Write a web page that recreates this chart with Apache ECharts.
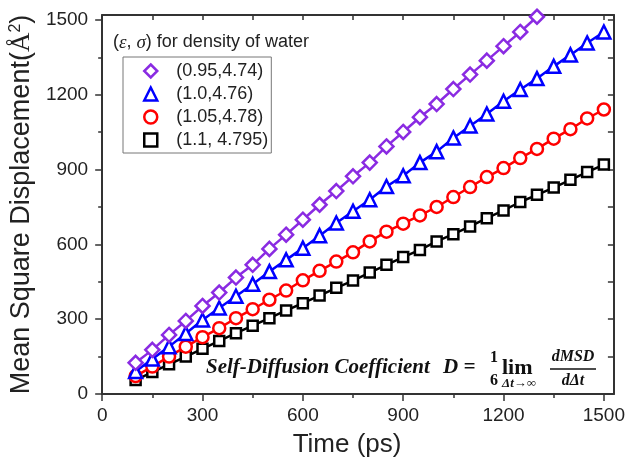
<!DOCTYPE html>
<html>
<head>
<meta charset="utf-8">
<script src="https://cdn.jsdelivr.net/npm/echarts@6/dist/echarts.min.js"></script>
<style>html,body{margin:0;padding:0;background:#fff}#c{width:628px;height:468px}</style>
</head>
<body>
<div id="c"></div>
<script>
// ---- data ----
const times = [100,150,200,250,300,350,400,450,500,550,600,650,700,750,800,850,900,950,1000,1050,1100,1150,1200,1250,1300,1350,1400,1450,1500];
const names = ['(0.95,4.74)','(1.0,4.76)','(1.05,4.78)','(1.1, 4.795)'];
const msd095 = [125,177,237,293,353,407,467,518,582,639,699,759,814,873,928,993,1051,1110,1163,1223,1281,1337,1395,1452,1513,1570];
const msd100 = [90,140,190,243,297,345,392,440,491,538,585,635,686,733,779,832,875,928,972,1027,1075,1123,1174,1221,1265,1314,1360,1408,1452];
const msd105 = [72,110,150,190,228,264,304,340,378,415,456,494,531,568,612,651,683,716,750,790,830,870,906,946,983,1024,1062,1105,1141];
const msd110 = [56,88,119,150,181,213,244,274,304,335,364,395,426,455,487,518,549,578,612,641,672,705,736,770,799,828,859,890,920];
const majorTicks = [0,300,600,900,1200,1500];
const minorTicks = [150,450,750,1050,1350];
const allTicks = [0,150,300,450,600,750,900,1050,1200,1350,1500];

const colors = ['#8a2be2','#0000ff','#ff0000','#000000'];
const symbols = ['diamond','triangle','circle','rect'];
const sizes = [14,13,12,10];
const sets = [msd095, msd100, msd105, msd110];

const axisColor = '#333';
const labelFont = {fontFamily:'Liberation Sans', fontSize:19, color:'#222', formatter: v => String(v)};

function pairs(vals){ return vals.map((v,i)=>[times[i], v]); }

const chart = echarts.init(document.getElementById('c'), null, {renderer:'canvas'});
const series = sets.map((vals,k)=>({
  name: names[k],
  type: 'line',
  data: pairs(vals),
  symbol: symbols[k],
  symbolSize: sizes[k],
  clip: true,
  lineStyle: {color: colors[k], width: 2.5},
  itemStyle: {color: '#fff', borderColor: colors[k], borderWidth: 2.5},
  emphasis: {disabled: true},
  z: 10 - k
}));

chart.setOption({
  animation: false,
  grid: {left: 102, right: 14, top: 15, bottom: 74, containLabel: false},
  title: {
    text: '({i|ε}, {i|σ}) for density of water',
    left: 108, top: 28,
    textStyle: {
      fontFamily: 'Liberation Sans', fontSize: 18, fontWeight: 'normal', color: '#222',
      rich: {i: {fontFamily: 'Liberation Serif', fontStyle: 'italic', fontSize: 19, color: '#222'}}
    }
  },
  legend: {
    orient: 'vertical',
    left: 123, top: 57,
    padding: [5, 3, 4, 20],
    itemGap: 5,
    itemWidth: 13, itemHeight: 13,
    borderColor: '#777', borderWidth: 1,
    textStyle: {fontFamily: 'Liberation Sans', fontSize: 18, color: '#222', padding: [0,0,0,14]},
    data: names.map((n,k)=>({name: n, icon: symbols[k],
      itemStyle: {color: '#fff', borderColor: colors[k], borderWidth: 2.5}}))
  },
  xAxis: [
    {type:'value', position:'bottom', min:0, max:1530,
     axisLine:{show:true, onZero:false, lineStyle:{color:axisColor, width:2}},
     axisTick:{show:true, inside:false, length:7, customValues: majorTicks, lineStyle:{color:axisColor, width:1.5}},
     axisLabel:{show:true, margin:12, customValues: majorTicks, ...labelFont},
     splitLine:{show:false},
     name:'Time (ps)', nameLocation:'middle', nameGap:38,
     nameTextStyle:{fontFamily:'Liberation Sans', fontSize:26, color:'#222', padding:[0,22,0,0]}},
    {type:'value', position:'bottom', min:0, max:1530,
     axisLine:{show:false, onZero:false},
     axisTick:{show:true, inside:false, length:4, customValues: minorTicks, lineStyle:{color:axisColor, width:1.5}},
     axisLabel:{show:false}, splitLine:{show:false}},
    {type:'value', position:'top', min:0, max:1530,
     axisLine:{show:true, onZero:false, lineStyle:{color:axisColor, width:2}},
     axisTick:{show:true, inside:true, length:5, customValues: allTicks, lineStyle:{color:axisColor, width:1.5}},
     axisLabel:{show:false}, splitLine:{show:false}}
  ],
  yAxis: [
    {type:'value', position:'left', min:0, max:1520,
     axisLine:{show:true, onZero:false, lineStyle:{color:axisColor, width:2}},
     axisTick:{show:true, inside:false, length:7, customValues: majorTicks, lineStyle:{color:axisColor, width:1.5}},
     axisLabel:{show:true, margin:14, customValues: majorTicks, ...labelFont},
     splitLine:{show:false},
     name:'Mean Square Displacement({a|Å}{s|2})', nameLocation:'middle', nameGap:53,
     nameTextStyle:{fontFamily:'Liberation Sans', fontSize:27, color:'#222',
       rich:{a:{fontFamily:'Liberation Serif', fontSize:27, color:'#222'},
             s:{fontFamily:'Liberation Sans', fontSize:16, color:'#222', verticalAlign:'top', lineHeight:27}}}},
    {type:'value', position:'left', min:0, max:1520,
     axisLine:{show:false, onZero:false},
     axisTick:{show:true, inside:false, length:4, customValues: minorTicks, lineStyle:{color:axisColor, width:1.5}},
     axisLabel:{show:false}, splitLine:{show:false}},
    {type:'value', position:'right', min:0, max:1520,
     axisLine:{show:true, onZero:false, lineStyle:{color:axisColor, width:2}},
     axisTick:{show:true, inside:true, length:6, customValues: allTicks, lineStyle:{color:axisColor, width:1.5}},
     axisLabel:{show:false}, splitLine:{show:false}}
  ],
  series: series,
  graphic: [
    {type:'text', x:206, y:368, z:100, style:{text:'Self-Diffusion Coefficient', font:'italic bold 21px "Liberation Serif"', fill:'#111', align:'left', verticalAlign:'middle'}},
    {type:'text', x:443, y:368, z:100, style:{text:'D =', font:'italic bold 21px "Liberation Serif"', fill:'#111', align:'left', verticalAlign:'middle'}},
    {type:'text', x:494, y:358, z:100, style:{text:'1', font:'bold 16px "Liberation Serif"', fill:'#111', align:'center', verticalAlign:'middle'}},
    {type:'text', x:494, y:381, z:100, style:{text:'6', font:'bold 16px "Liberation Serif"', fill:'#111', align:'center', verticalAlign:'middle'}},
    {type:'text', x:502, y:368, z:100, style:{text:'lim', font:'bold 22px "Liberation Serif"', fill:'#111', align:'left', verticalAlign:'middle'}},
    {type:'text', x:502, y:384, z:100, style:{text:'Δt→∞', font:'italic bold 13px "Liberation Serif"', fill:'#111', align:'left', verticalAlign:'middle'}},
    {type:'text', x:573, y:357, z:100, style:{text:'dMSD', font:'italic bold 16px "Liberation Serif"', fill:'#111', align:'center', verticalAlign:'middle'}},
    {type:'line', z:100, shape:{x1:550, y1:369, x2:596, y2:369}, style:{stroke:'#111', lineWidth:1.5}},
    {type:'text', x:573, y:381, z:100, style:{text:'dΔt', font:'italic bold 16px "Liberation Serif"', fill:'#111', align:'center', verticalAlign:'middle'}}
  ]
});
</script>
</body>
</html>
